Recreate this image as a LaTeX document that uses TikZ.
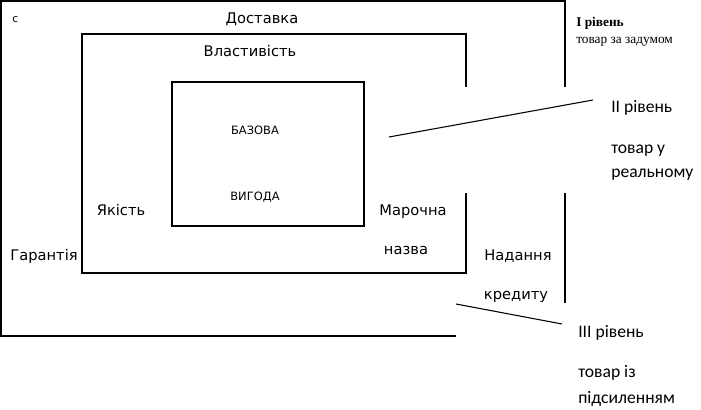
\documentclass[tikz,border=0pt]{standalone}
\usepackage{fontspec}
\setmainfont{DejaVu Sans}
\newfontfamily\carl{Carlito}
\newfontfamily\tms{Liberation Serif}
\begin{document}
\begin{tikzpicture}[x=0.75pt,y=-0.75pt,
  box/.style={line width=1.1pt},
  lead/.style={line width=0.8pt},
  lbl/.style={inner sep=0pt,anchor=base,font=\fontsize{11}{13}\selectfont},
  small/.style={inner sep=0pt,anchor=base,font=\fontsize{8.6}{10}\selectfont},
  lvl/.style={inner sep=0pt,anchor=base west,font=\carl\fontsize{13.2}{15}\selectfont},
  lvlone/.style={inner sep=0pt,anchor=base west,font=\tms\fontsize{10}{12}\selectfont}]
\useasboundingbox (0,0) rectangle (701,410);
% outer box (level III)
\draw[box] (456,336) -- (1,336) -- (1,1) -- (565,1) -- (565,87);
\draw[box] (565,193) -- (565,303);
% middle box (level II)
\draw[box] (466,87) -- (466,34) -- (82,34) -- (82,273) -- (466,273) -- (466,193);
% inner box (level I)
\draw[box] (172,82) rectangle (364,226);
% texts
\node[small,anchor=base west,font=\fontsize{8}{9}\selectfont] (c) at (12,23) {с};
\node[lbl] (dost) at (262,24) {Доставка};
\node[lbl] (vlast) at (250,57) {Властивість};
\node[small] (baz) at (255,135) {БАЗОВА};
\node[small] (vyg) at (255,201) {ВИГОДА};
\node[lbl] (yak) at (121,216) {Якість};
\node[lbl] (har) at (44,261) {Гарантія};
\node[lbl] (mar) at (413,216) {Марочна};
\node[lbl] (naz) at (406,255) {назва};
\node[lbl] (nad) at (518,261) {Надання};
\node[lbl] (kred) at (516,300) {кредиту};
\node[lvlone,font=\tms\bfseries\fontsize{10}{12}\selectfont] (r1) at (576,27) {I рівень};
\node[lvlone] (r1t) at (576,44) {товар за задумом};
\node[lvl] (r2) at (611,113) {II рівень};
\node[lvl] (r2t) at (611,154) {товар у};
\node[lvl] (r2u) at (611,178) {реальному};
\node[lvl] (r3) at (578,337) {III рівень};
\node[lvl] (r3t) at (578,377) {товар із};
\node[lvl] (r3u) at (578,403) {підсиленням};
% leader lines
\coordinate (a2) at (389,137);
\coordinate (b2) at (593,100);
\coordinate (a3) at (456,304);
\coordinate (b3) at (562,324);
\draw[lead] (a2) -- (b2);
\draw[lead] (a3) -- (b3);
\end{tikzpicture}
\end{document}
